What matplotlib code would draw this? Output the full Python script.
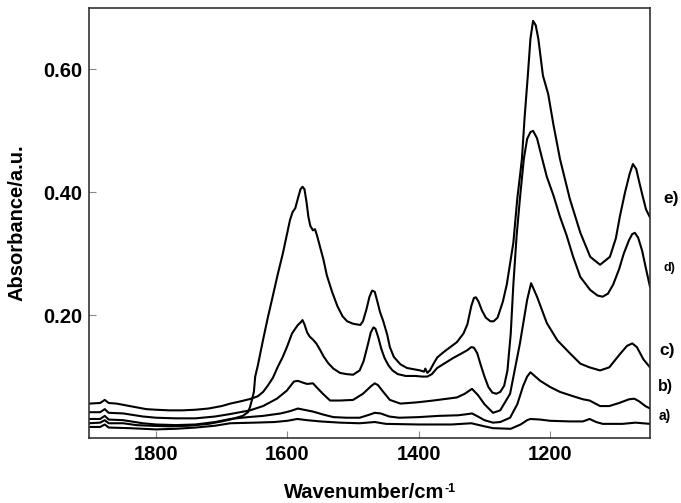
import numpy as np
import matplotlib.pyplot as plt

plt.rcParams['font.family'] = ['Liberation Sans', 'DejaVu Sans']

# FTIR spectra a)-e): wavenumber (cm-1) and absorbance (a.u.)
wn_a = [1902, 1885, 1878, 1872, 1840, 1800, 1770, 1740, 1710, 1687, 1650, 1620, 1600,
        1585, 1570, 1550, 1520, 1490, 1467, 1450, 1400, 1350, 1320, 1300, 1287, 1260,
        1245, 1235, 1230, 1215, 1200, 1170, 1150, 1140, 1130, 1120, 1090, 1070, 1048]
abs_a = [0.018, 0.018, 0.022, 0.017, 0.016, 0.014, 0.015, 0.017, 0.020, 0.024, 0.025,
         0.026, 0.028, 0.031, 0.029, 0.027, 0.025, 0.024, 0.026, 0.023, 0.022, 0.022,
         0.024, 0.019, 0.016, 0.015, 0.022, 0.029, 0.031, 0.030, 0.028, 0.027, 0.027,
         0.031, 0.026, 0.023, 0.023, 0.025, 0.023]

wn_b = [1902, 1885, 1878, 1872, 1850, 1820, 1800, 1770, 1740, 1710, 1687, 1660, 1637,
        1610, 1595, 1584, 1575, 1561, 1545, 1530, 1510, 1490, 1475, 1467, 1458, 1445,
        1430, 1400, 1370, 1340, 1325, 1319, 1310, 1300, 1287, 1276, 1261, 1250, 1241,
        1235, 1230, 1215, 1200, 1185, 1165, 1150, 1140, 1124, 1110, 1095, 1080, 1072,
        1065, 1055, 1048]
abs_b = [0.031, 0.031, 0.036, 0.030, 0.029, 0.024, 0.022, 0.021, 0.022, 0.026, 0.031,
         0.034, 0.036, 0.040, 0.044, 0.048, 0.046, 0.043, 0.038, 0.034, 0.033, 0.033,
         0.038, 0.041, 0.040, 0.035, 0.033, 0.034, 0.036, 0.037, 0.039, 0.040, 0.035,
         0.029, 0.025, 0.026, 0.033, 0.055, 0.085, 0.100, 0.107, 0.093, 0.083, 0.075,
         0.068, 0.063, 0.061, 0.052, 0.052, 0.057, 0.063, 0.064, 0.060, 0.052, 0.048]

wn_c = [1902, 1885, 1878, 1872, 1850, 1820, 1800, 1770, 1740, 1710, 1687, 1657, 1637,
        1616, 1601, 1590, 1584, 1576, 1570, 1561, 1555, 1546, 1535, 1520, 1500, 1485,
        1472, 1467, 1462, 1454, 1444, 1428, 1403, 1378, 1342, 1330, 1319, 1310, 1300,
        1287, 1276, 1261, 1246, 1235, 1229, 1220, 1205, 1189, 1170, 1154, 1140, 1124,
        1110, 1095, 1083, 1075, 1068, 1058, 1048]
abs_c = [0.042, 0.042, 0.047, 0.041, 0.040, 0.035, 0.033, 0.032, 0.032, 0.035, 0.039,
         0.045, 0.052, 0.064, 0.077, 0.092, 0.093, 0.090, 0.088, 0.089, 0.082, 0.072,
         0.061, 0.061, 0.062, 0.072, 0.085, 0.089, 0.086, 0.075, 0.062, 0.056, 0.058,
         0.061, 0.066, 0.072, 0.080, 0.070, 0.055, 0.041, 0.045, 0.072, 0.154, 0.225,
         0.252, 0.230, 0.187, 0.159, 0.138, 0.121, 0.115, 0.110, 0.115, 0.135, 0.150,
         0.154, 0.148, 0.128, 0.115]

wn_d = [1902, 1885, 1878, 1872, 1860, 1845, 1830, 1815, 1800, 1780, 1760, 1740, 1720,
        1700, 1687, 1670, 1655, 1645, 1637, 1630, 1622, 1615, 1607, 1600, 1593, 1588,
        1584, 1580, 1577, 1574, 1570, 1566, 1561, 1556, 1550, 1545, 1538, 1530, 1520,
        1510, 1500, 1490, 1484, 1478, 1473, 1469, 1466, 1462, 1457, 1452, 1446, 1440,
        1432, 1420, 1405, 1395, 1387, 1380, 1372, 1360, 1348, 1336, 1326, 1320, 1316,
        1311, 1306, 1300, 1294, 1288, 1282, 1276, 1270, 1265, 1260, 1256, 1251, 1246,
        1240, 1235, 1230, 1226, 1220, 1212, 1205, 1195, 1185, 1175, 1165, 1154, 1139,
        1128, 1120, 1112, 1104, 1095, 1088, 1080, 1075, 1071, 1066, 1060, 1054, 1048]
abs_d = [0.056, 0.057, 0.062, 0.057, 0.056, 0.053, 0.050, 0.047, 0.046, 0.045, 0.045,
         0.046, 0.048, 0.052, 0.056, 0.060, 0.064, 0.068, 0.075, 0.085, 0.098, 0.115,
         0.132, 0.150, 0.170, 0.178, 0.184, 0.188, 0.192, 0.185, 0.172, 0.165, 0.160,
         0.154, 0.143, 0.133, 0.122, 0.113, 0.106, 0.104, 0.103, 0.110, 0.125, 0.150,
         0.172, 0.180, 0.178, 0.165, 0.145, 0.130, 0.118, 0.110, 0.104, 0.101, 0.101,
         0.100, 0.100, 0.104, 0.114, 0.122, 0.130, 0.137, 0.143, 0.148, 0.147, 0.138,
         0.120, 0.100, 0.083, 0.074, 0.072, 0.075, 0.085, 0.110, 0.170, 0.250, 0.330,
         0.390, 0.455, 0.487, 0.498, 0.500, 0.488, 0.454, 0.425, 0.395, 0.360, 0.330,
         0.295, 0.262, 0.241, 0.232, 0.230, 0.235, 0.250, 0.275, 0.300, 0.322, 0.332,
         0.334, 0.326, 0.305, 0.275, 0.246]

wn_e = [1902, 1885, 1878, 1872, 1850, 1830, 1810, 1780, 1750, 1720, 1700, 1687, 1668,
        1660, 1657, 1654, 1651, 1649, 1645, 1637, 1630, 1622, 1615, 1607, 1600, 1596,
        1592, 1588, 1584, 1580, 1577, 1574, 1571, 1568, 1565, 1561, 1558, 1555, 1550,
        1545, 1540, 1532, 1524, 1516, 1509, 1500, 1489, 1485, 1480, 1475, 1471, 1467,
        1463, 1459, 1454, 1448, 1444, 1438, 1428, 1418, 1408, 1398, 1392, 1390, 1387,
        1383, 1378, 1372, 1362, 1352, 1342, 1332, 1326, 1320, 1316, 1313, 1309, 1304,
        1298, 1291, 1286, 1280, 1272, 1266, 1256, 1250, 1246, 1243, 1239, 1234, 1230,
        1226, 1222, 1218, 1211, 1203, 1195, 1185, 1170, 1154, 1139, 1124, 1109, 1100,
        1094, 1086, 1079, 1074, 1069, 1064, 1059, 1054, 1048]
abs_e = [0.024, 0.025, 0.029, 0.024, 0.024, 0.021, 0.020, 0.019, 0.020, 0.023, 0.027,
         0.030, 0.036, 0.042, 0.050, 0.062, 0.075, 0.100, 0.118, 0.160, 0.195, 0.232,
         0.265, 0.300, 0.335, 0.355, 0.368, 0.374, 0.390, 0.405, 0.409, 0.405, 0.385,
         0.360, 0.345, 0.338, 0.340, 0.330, 0.310, 0.290, 0.265, 0.238, 0.215, 0.198,
         0.190, 0.186, 0.184, 0.190, 0.208, 0.230, 0.240, 0.238, 0.222, 0.205, 0.190,
         0.168, 0.148, 0.132, 0.120, 0.114, 0.112, 0.110, 0.108, 0.113, 0.106, 0.110,
         0.120, 0.131, 0.140, 0.148, 0.156, 0.170, 0.185, 0.215, 0.228, 0.229, 0.222,
         0.208, 0.196, 0.190, 0.190, 0.196, 0.222, 0.250, 0.318, 0.390, 0.426, 0.454,
         0.520, 0.590, 0.650, 0.679, 0.672, 0.650, 0.590, 0.560, 0.510, 0.454, 0.389,
         0.334, 0.295, 0.282, 0.295, 0.325, 0.360, 0.400, 0.430, 0.446, 0.438, 0.415,
         0.393, 0.372, 0.359]

labels = ['a)', 'b)', 'c)', 'd)', 'e)']
label_y = [416, 387, 351, 268, 199]
label_x = [659, 658, 659, 663, 663]
label_size = [10, 11.5, 12.5, 9, 12.5]

W, H = 681, 503
fig = plt.figure(figsize=(W / 100, H / 100), dpi=100)
ax = fig.add_axes([89 / W, 1 - 438 / H, (650 - 89) / W, (438 - 8) / H])

for wn, ab in [(wn_a, abs_a), (wn_b, abs_b), (wn_c, abs_c), (wn_d, abs_d), (wn_e, abs_e)]:
    ax.plot(wn, ab, color='black', lw=1.5, solid_joinstyle='round')

ax.set_xlim(1902, 1048)
ax.set_ylim(0.0, 0.70)
ax.set_xticks([1800, 1600, 1400, 1200])
ax.set_yticks([0.20, 0.40, 0.60])
ax.set_yticklabels(['0.20', '0.40', '0.60'])
ax.tick_params(direction='in', length=5, width=0.8, color='#888888',
               labelsize=14.5, pad=5)
for lab in ax.get_xticklabels() + ax.get_yticklabels():
    lab.set_fontweight('bold')
for sp in ax.spines.values():
    sp.set_color('#333333')
    sp.set_linewidth(1.2)

ax.set_ylabel('Absorbance/a.u.', fontsize=14.5, fontweight='bold', labelpad=12)

# x label with a small superscript "-1" placed right after "cm"
xl = fig.text(364 / W, 1 - 492 / H, 'Wavenumber/cm', fontsize=14.5,
              fontweight='bold', ha='center', va='center')
fig.canvas.draw()
bb = xl.get_window_extent()
fig.text(bb.x1 / W + 0.001, bb.y1 / H - 0.012, '-1', fontsize=9,
         fontweight='bold', ha='left', va='center')

for t, x, y, s in zip(labels, label_x, label_y, label_size):
    fig.text(x / W, 1 - y / H, t, fontsize=s, fontweight='bold', ha='left', va='center')

fig.savefig('out.png', dpi=100)
